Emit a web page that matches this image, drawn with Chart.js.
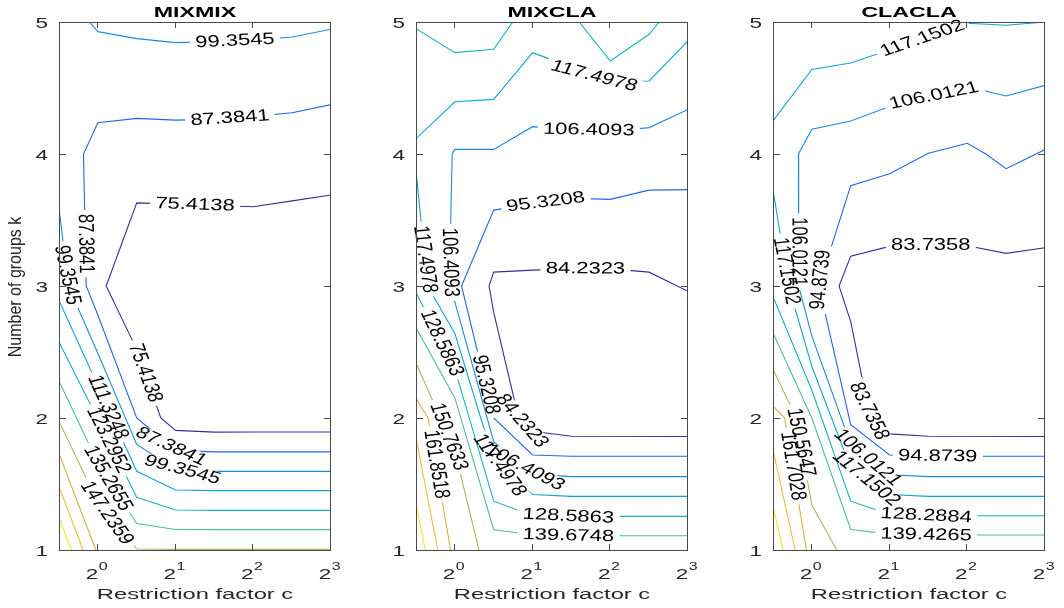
<!DOCTYPE html>
<html>
<head>
<meta charset="utf-8">
<title>Contour levels by restriction factor and number of groups</title>
<script src="https://cdn.jsdelivr.net/npm/chart.js@4.4.1/dist/chart.umd.min.js"></script>
<style>
  html, body { margin: 0; padding: 0; background: #fff; }
  #stage { position: relative; width: 1064px; height: 608px; overflow: hidden; background: #fff; }
  #stage canvas { position: absolute; left: 0; top: 0; }
</style>
</head>
<body>
<div id="stage">
  <canvas id="panel0" width="1064" height="608"></canvas>
  <canvas id="panel1" width="1064" height="608"></canvas>
  <canvas id="panel2" width="1064" height="608"></canvas>
</div>
<script>
// ---- chart values -------------------------------------------------------
const panelTitles = ['MIXMIX', 'MIXCLA', 'CLACLA'];
const xTickPowers = [0, 1, 2, 3];          // restriction factor ticks, as powers of 2
const yTickValues = [1, 2, 3, 4, 5];       // number of groups k
const log2cRange = [-0.5, 3];
const kRange = [1, 5];

// contour levels, one list per panel
const mixmixLevels = [75.4138, 87.3841, 99.3545, 111.3248, 123.2952, 135.2655, 147.2359, 159.2062, 171.1766, 183.1469];
const mixclaLevels = [84.2323, 95.3208, 106.4093, 117.4978, 128.5863, 139.6748, 150.7633, 161.8518, 172.9403, 184.0288];
const claclaLevels = [83.7358, 94.8739, 106.0121, 117.1502, 128.2884, 139.4265, 150.5647, 161.7028, 172.8410, 183.9791];

// contour paths: [level index, [[log2 c, k], ...]]
const mixmixPaths = [
  [0, [[3, 3.69], [2.5, 3.645], [2, 3.60], [1.5, 3.61], [1, 3.62], [0.5, 3.63], [0.107, 3.0], [0.5, 2.52], [0.81, 2.0], [1, 1.906], [1.5, 1.893], [2, 1.894], [3, 1.894]]],
  [1, [[3, 4.374], [2.5, 4.312], [2, 4.285], [1.5, 4.262], [1, 4.257], [0.5, 4.27], [0, 4.237], [-0.185, 4.0], [-0.15, 3.0], [0, 2.78], [0.5, 2.0], [1, 1.755], [1.5, 1.743], [3, 1.743]]],
  [2, [[-0.108, 5], [0, 4.927], [0.5, 4.874], [1, 4.844], [1.5, 4.85], [2, 4.862], [2.5, 4.886], [3, 4.945]]],
  [2, [[-0.5, 3.593], [-0.38, 3.0], [0, 2.49], [0.5, 1.80], [1, 1.61], [1.5, 1.596], [3, 1.596]]],
  [3, [[-0.5, 2.89], [0, 2.245], [0.5, 1.596], [1, 1.455], [1.5, 1.45], [3, 1.45]]],
  [4, [[-0.5, 2.575], [0, 1.99], [0.5, 1.40], [1, 1.303], [1.5, 1.30], [3, 1.30]]],
  [5, [[-0.5, 2.28], [0, 1.66], [0.5, 1.20], [1, 1.155], [1.5, 1.154], [3, 1.154]]],
  [6, [[-0.5, 1.975], [0, 1.36], [0.5, 1.007], [1, 1.005], [3, 1.005]]],
  [7, [[-0.5, 1.73], [-0.026, 1.0]]],
  [8, [[-0.5, 1.48], [-0.19, 1.0]]],
  [9, [[-0.5, 1.243], [-0.34, 1.0]]]
];
const mixclaPaths = [
  [0, [[3, 2.96], [2.5, 3.105], [2, 3.13], [1.5, 3.13], [1, 3.12], [0.5, 3.105], [0.44, 3.0], [0.5, 2.80], [0.82, 2.0], [1, 1.90], [1.5, 1.862], [3, 1.86]]],
  [1, [[3, 3.73], [2.5, 3.726], [2, 3.656], [1.5, 3.665], [1, 3.62], [0.5, 3.575], [0.086, 3.0], [0.5, 2.0], [1, 1.72], [1.5, 1.71], [3, 1.71]]],
  [2, [[3, 4.338], [2.5, 4.2], [2, 4.17], [1.5, 4.19], [1, 4.207], [0.5, 4.035], [0, 4.035], [-0.035, 4.0], [-0.07, 3.0], [0, 2.88], [0.5, 1.82], [1, 1.575], [1.5, 1.556], [3, 1.556]]],
  [3, [[-0.5, 4.116], [0, 4.396], [0.5, 4.414], [1, 4.768], [1.5, 4.66], [2, 4.54], [2.5, 4.553], [3, 4.856]]],
  [3, [[-0.5, 3.87], [-0.35, 3.0], [0, 2.64], [0.5, 1.68], [1, 1.42], [1.5, 1.406], [3, 1.406]]],
  [4, [[-0.5, 4.95], [0, 4.768], [0.5, 4.793], [0.745, 5]]],
  [4, [[1.6, 5], [2, 4.704], [2.5, 4.907], [2.63, 5]]],
  [4, [[-0.5, 2.95], [0, 2.37], [0.5, 1.37], [1, 1.26], [1.5, 1.255], [3, 1.255]]],
  [5, [[-0.5, 2.683], [0, 2.152], [0.5, 1.154], [1, 1.115], [1.5, 1.108], [3, 1.108]]],
  [6, [[-0.5, 2.418], [0, 1.75], [0.31, 1.0]]],
  [7, [[-0.5, 2.152], [-0.345, 2.0], [-0.055, 1.0]]],
  [8, [[-0.5, 1.85], [-0.22, 1.0]]],
  [9, [[-0.5, 1.35], [-0.38, 1.0]]]
];
const claclaPaths = [
  [0, [[3, 3.29], [2.5, 3.247], [2, 3.305], [1.5, 3.31], [1, 3.30], [0.5, 3.226], [0.35, 3.0], [0.5, 2.73], [0.75, 2.0], [1, 1.88], [1.5, 1.862], [3, 1.86]]],
  [1, [[3, 4.034], [2.5, 3.889], [2.24, 4.0], [2, 4.081], [1.5, 4.005], [1, 3.85], [0.5, 3.76], [0.09, 3.0], [0.5, 1.95], [1, 1.72], [1.5, 1.71], [3, 1.71]]],
  [2, [[3, 4.52], [2.5, 4.44], [2, 4.51], [1.5, 4.43], [1, 4.36], [0.5, 4.25], [0, 4.187], [-0.173, 4.0], [-0.17, 3.0], [0, 2.62], [0.5, 1.8], [1, 1.57], [1.5, 1.556], [3, 1.556]]],
  [3, [[-0.5, 4.25], [0, 4.64], [0.5, 4.69], [1, 4.79], [1.5, 4.89], [2, 4.99], [2.5, 4.975], [3, 5.0]]],
  [3, [[-0.5, 3.73], [-0.3, 3.0], [0, 2.39], [0.5, 1.62], [1, 1.42], [1.5, 1.406], [3, 1.406]]],
  [4, [[-0.5, 2.92], [0, 2.21], [0.5, 1.37], [1, 1.27], [1.5, 1.26], [3, 1.26]]],
  [5, [[-0.5, 2.645], [0, 2.0], [0.5, 1.155], [1, 1.12], [1.5, 1.114], [3, 1.114]]],
  [6, [[-0.5, 2.37], [-0.2, 2.0], [0, 1.34], [0.32, 1.0]]],
  [7, [[-0.5, 2.09], [-0.35, 2.0], [-0.07, 1.0]]],
  [8, [[-0.5, 1.76], [-0.215, 1.0]]],
  [9, [[-0.5, 1.33], [-0.37, 1.0]]]
];

// ---- layout and style ---------------------------------------------------
// where each inline level label sits: [level index, log2 c, k] (snapped onto its line)
const mixmixLabelSpots = [
  [2, 1.765, 4.864], [1, 1.70, 4.27], [0, 1.25, 3.61], [1, -0.163, 3.32], [2, -0.44, 3.08],
  [0, 0.60, 2.34], [3, 0.08, 2.07], [4, 0.116, 1.825], [5, 0.094, 1.53], [6, 0.07, 1.26],
  [1, 0.994, 1.82], [2, 1.09, 1.654]
];
const mixclaLabelSpots = [
  [3, 1.766, 4.553], [2, 1.72, 4.15], [1, 1.166, 3.648], [0, 1.68, 3.132], [3, -0.43, 3.2],
  [2, -0.107, 3.18], [4, -0.2, 2.56], [1, 0.38, 2.25], [0, 0.91, 2.01], [6, -0.077, 1.86],
  [7, -0.27, 1.646], [2, 0.92, 1.64], [3, 0.555, 1.63], [4, 1.46, 1.26], [5, 1.46, 1.108]
];
const claclaLabelSpots = [
  [3, 1.415, 4.89], [2, 1.576, 4.43], [0, 1.53, 3.30], [2, -0.2, 3.26], [3, -0.47, 3.10],
  [1, 0.1, 3.05], [0, 0.8, 2.06], [6, -0.2, 1.81], [7, -0.31, 1.63], [2, 0.755, 1.73],
  [3, 0.706, 1.55], [1, 1.62, 1.70], [4, 1.47, 1.26], [5, 1.47, 1.11]
];

const plotLefts = [59, 416, 773];
const plotWidth = 272;
const plotTop = 22;
const plotBottom = 550;
const PAGE_W = 1064, PAGE_H = 608;

const levelColors = ['#3d2c98', '#2166e3', '#1c8ade', '#0ea4d4', '#17b3b8', '#4dbf92', '#a4bd5e', '#dcaf42', '#f8bb36', '#f5e425'];
const FONT = '"Liberation Sans", Arial, Helvetica, sans-serif';
const LABEL_SX = 1.33;          // inline level labels are drawn wide
const TICK_SX = 1.45;
const LABEL_SIZE = 16.5;
const FRAME_COLOR = '#4a4a4a';
const TEXT_COLOR = '#262626';

// ---- geometry helpers ---------------------------------------------------
function cumLengths(pts) {
  const out = [0];
  for (let i = 1; i < pts.length; i++) {
    out.push(out[i - 1] + Math.hypot(pts[i][0] - pts[i - 1][0], pts[i][1] - pts[i - 1][1]));
  }
  return out;
}
function pointAt(pts, cum, s) {
  const total = cum[cum.length - 1];
  s = Math.max(0, Math.min(total, s));
  for (let i = 1; i < pts.length; i++) {
    if (s <= cum[i] || i === pts.length - 1) {
      const seg = cum[i] - cum[i - 1] || 1;
      const t = (s - cum[i - 1]) / seg;
      return [pts[i - 1][0] + t * (pts[i][0] - pts[i - 1][0]), pts[i - 1][1] + t * (pts[i][1] - pts[i - 1][1])];
    }
  }
  return pts[pts.length - 1];
}
function nearestOnPath(pts, cum, x, y) {
  let best = { d: Infinity, s: 0 };
  for (let i = 1; i < pts.length; i++) {
    const [x0, y0] = pts[i - 1], [x1, y1] = pts[i];
    const dx = x1 - x0, dy = y1 - y0, L2 = dx * dx + dy * dy || 1;
    let t = ((x - x0) * dx + (y - y0) * dy) / L2;
    t = Math.max(0, Math.min(1, t));
    const px = x0 + t * dx, py = y0 + t * dy;
    const d = Math.hypot(x - px, y - py);
    if (d < best.d) best = { d, s: cum[i - 1] + t * Math.sqrt(L2) };
  }
  return best;
}
function labelPolygon(L) {
  const pw = L.w / 2 + 4, ph = 7;
  const c = Math.cos(L.ang), s = Math.sin(L.ang);
  return [[-pw, -ph], [pw, -ph], [pw, ph], [-pw, ph]].map(([u, v]) =>
    [L.x + LABEL_SX * (u * c - v * s), L.y + (u * s + v * c)]);
}
function drawWide(ctx, text, x, y, opt) {
  ctx.save();
  ctx.translate(x, y);
  ctx.scale(opt.sx || 1, 1);
  if (opt.rot) ctx.rotate(opt.rot);
  ctx.font = opt.font;
  ctx.fillStyle = opt.color || '#000';
  ctx.textAlign = opt.align || 'center';
  ctx.textBaseline = opt.baseline || 'alphabetic';
  ctx.fillText(text, 0, 0);
  ctx.restore();
}

// ---- plugins ------------------------------------------------------------
const contourLabelPlugin = {
  id: 'contourLabels',
  beforeDatasetsDraw(chart) {
    const { ctx } = chart;
    const xs = chart.scales.x, ys = chart.scales.y;
    const cfg = chart.options.plugins.contourLabels;
    const paths = chart.data.datasets.map((ds, i) => {
      const pts = chart.getDatasetMeta(i).data.map(e => [e.x, e.y]);
      return { i, level: ds.levelIndex, pts, cum: cumLengths(pts) };
    });
    ctx.save();
    ctx.font = LABEL_SIZE + 'px ' + FONT;
    const labels = [];
    cfg.spots.forEach(([li, e, k]) => {
      const ax = xs.getPixelForValue(Math.pow(2, e));
      const ay = ys.getPixelForValue(k);
      let best = null;
      paths.filter(p => p.level === li).forEach(p => {
        const r = nearestOnPath(p.pts, p.cum, ax, ay);
        if (!best || r.d < best.d) best = { ...r, p };
      });
      if (!best) return;
      const text = cfg.levels[li].toFixed(4);
      const w = ctx.measureText(text).width;
      let half = w * LABEL_SX / 2, ang = 0;
      for (let it = 0; it < 3; it++) {
        const A = pointAt(best.p.pts, best.p.cum, best.s - half);
        const B = pointAt(best.p.pts, best.p.cum, best.s + half);
        ang = Math.atan2(LABEL_SX * (B[1] - A[1]), B[0] - A[0]);
        if (ang > Math.PI / 2) ang -= Math.PI;
        if (ang <= -Math.PI / 2) ang += Math.PI;
        half = (w / 2) * Math.hypot(LABEL_SX * Math.cos(ang), Math.sin(ang));
      }
      const c = pointAt(best.p.pts, best.p.cum, best.s);
      labels.push({ ds: best.p.i, text, x: c[0], y: c[1], ang, w });
    });
    ctx.restore();
    chart.$contourLabels = labels;
  },
  beforeDatasetDraw(chart, args) {
    const ctx = chart.ctx;
    ctx.save();
    const own = (chart.$contourLabels || []).filter(L => L.ds === args.index);
    if (!own.length) return;
    ctx.beginPath();
    ctx.rect(0, 0, chart.width, chart.height);
    own.forEach(L => {
      const poly = labelPolygon(L);
      ctx.moveTo(poly[0][0], poly[0][1]);
      for (let j = 1; j < poly.length; j++) ctx.lineTo(poly[j][0], poly[j][1]);
      ctx.closePath();
    });
    ctx.clip('evenodd');
  },
  afterDatasetDraw(chart) {
    chart.ctx.restore();
  },
  afterDatasetsDraw(chart) {
    const ctx = chart.ctx;
    (chart.$contourLabels || []).forEach(L => {
      drawWide(ctx, L.text, L.x, L.y, {
        sx: LABEL_SX, rot: L.ang, font: LABEL_SIZE + 'px ' + FONT,
        color: '#000', align: 'center', baseline: 'middle'
      });
    });
  }
};

const framePlugin = {
  id: 'matlabFrame',
  afterDraw(chart) {
    const { ctx, chartArea: a } = chart;
    const xs = chart.scales.x, ys = chart.scales.y;
    const cfg = chart.options.plugins.matlabFrame;
    ctx.save();
    // box
    ctx.strokeStyle = FRAME_COLOR;
    ctx.lineWidth = 1;
    ctx.strokeRect(a.left + 0.5, a.top + 0.5, a.right - a.left - 1, a.bottom - a.top);
    // inward ticks on all four sides
    ctx.beginPath();
    xTickPowers.forEach(p => {
      const px = Math.round(xs.getPixelForValue(Math.pow(2, p))) - 0.5;
      ctx.moveTo(px, a.bottom); ctx.lineTo(px, a.bottom - 6);
      ctx.moveTo(px, a.top); ctx.lineTo(px, a.top + 6);
    });
    yTickValues.forEach(v => {
      const py = Math.round(ys.getPixelForValue(v)) + 0.5;
      ctx.moveTo(a.left, py); ctx.lineTo(a.left + 7, py);
      ctx.moveTo(a.right, py); ctx.lineTo(a.right - 7, py);
    });
    ctx.stroke();

    // y tick labels
    yTickValues.forEach(v => {
      const py = ys.getPixelForValue(v);
      drawWide(ctx, String(v), a.left - 11, py + 1.5, {
        sx: TICK_SX, font: '15.5px ' + FONT, color: TEXT_COLOR, align: 'right', baseline: 'middle'
      });
    });
    // x tick labels: 2 with a raised exponent
    xTickPowers.forEach(p => {
      const px = xs.getPixelForValue(Math.pow(2, p));
      ctx.font = '15.5px ' + FONT;
      const wb = ctx.measureText('2').width;
      ctx.font = '11px ' + FONT;
      const ws = ctx.measureText(String(p)).width;
      const total = (wb + ws) * TICK_SX;
      const x0 = px - total / 2 - 1.5;
      drawWide(ctx, '2', x0, 578.5, { sx: TICK_SX, font: '15.5px ' + FONT, color: TEXT_COLOR, align: 'left' });
      drawWide(ctx, String(p), x0 + wb * TICK_SX + 0.5, 569.5, { sx: TICK_SX, font: '11px ' + FONT, color: TEXT_COLOR, align: 'left' });
    });
    // title and axis titles
    const cx = (a.left + a.right) / 2;
    drawWide(ctx, cfg.title, cx, 16.5, { sx: 1.5, font: 'bold 15.5px ' + FONT, color: '#000' });
    drawWide(ctx, 'Restriction factor c', cx, 598.5, { sx: 1.53, font: '15.5px ' + FONT, color: TEXT_COLOR });
    if (cfg.showYTitle) {
      drawWide(ctx, 'Number of groups k', 16, 287, {
        sx: 1.15, rot: -Math.PI / 2, font: '16px ' + FONT, color: TEXT_COLOR, baseline: 'middle'
      });
    }
    ctx.restore();
  }
};

// ---- charts -------------------------------------------------------------
const panels = [
  { levels: mixmixLevels, paths: mixmixPaths, spots: mixmixLabelSpots },
  { levels: mixclaLevels, paths: mixclaPaths, spots: mixclaLabelSpots },
  { levels: claclaLevels, paths: claclaPaths, spots: claclaLabelSpots }
];

panels.forEach((panel, n) => {
  const datasets = panel.paths.map(([li, pts]) => ({
    levelIndex: li,
    label: panel.levels[li].toFixed(4),
    data: pts.map(([e, k]) => ({ x: Math.pow(2, e), y: k })),
    borderColor: levelColors[li],
    borderWidth: 1.1,
    pointRadius: 0,
    pointHoverRadius: 0,
    fill: false,
    tension: 0
  }));
  const left = plotLefts[n];
  new Chart(document.getElementById('panel' + n), {
    type: 'line',
    data: { datasets },
    options: {
      responsive: false,
      maintainAspectRatio: false,
      animation: false,
      devicePixelRatio: 1,
      events: [],
      layout: { padding: { left, right: PAGE_W - left - plotWidth, top: plotTop, bottom: PAGE_H - plotBottom } },
      scales: {
        x: { type: 'logarithmic', min: Math.pow(2, log2cRange[0]), max: Math.pow(2, log2cRange[1]), bounds: 'data', display: false },
        y: { type: 'linear', min: kRange[0], max: kRange[1], bounds: 'data', display: false }
      },
      plugins: {
        legend: { display: false },
        tooltip: { enabled: false },
        title: { display: false },
        contourLabels: { levels: panel.levels, spots: panel.spots },
        matlabFrame: { title: panelTitles[n], showYTitle: n === 0 }
      }
    },
    plugins: [contourLabelPlugin, framePlugin]
  });
});
</script>
</body>
</html>
